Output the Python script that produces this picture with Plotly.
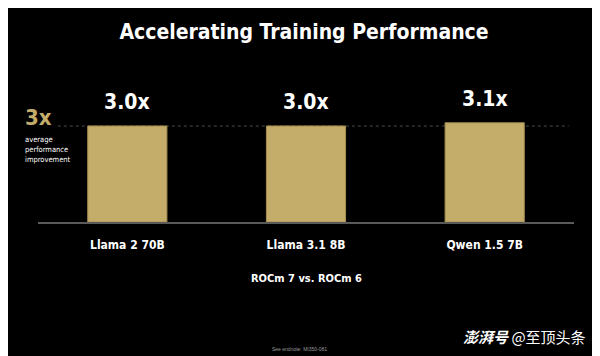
import plotly.graph_objects as go

categories = ["Llama 2 70B", "Llama 3.1 8B", "Qwen 1.5 7B"]
speedups = [3.0, 3.0, 3.1]
value_labels = ["3.0x", "3.0x", "3.1x"]
average_speedup = 3.0

FONT = "DejaVu Sans Condensed, Liberation Sans Narrow, Roboto, sans-serif"
GOLD = "#C4AD6B"

fig = go.Figure()
fig.add_trace(go.Bar(
    x=categories, y=speedups, width=0.443,
    marker=dict(color=GOLD, line=dict(color="#A8914F", width=1)),
    hoverinfo="skip", showlegend=False,
))

# value labels above bars
for c, v, t in zip(categories, speedups, value_labels):
    fig.add_annotation(x=c, y=v, text="<b>%s</b>" % t, showarrow=False,
                       yanchor="bottom", yshift=10,
                       font=dict(family=FONT, size=21, color="white"))

# average reference line
fig.add_shape(type="line", xref="paper", yref="y", x0=0.037, x1=0.99,
              y0=average_speedup, y1=average_speedup,
              line=dict(color="#4a4a4a", width=1, dash="dot"), layer="below")

fig.add_annotation(xref="paper", yref="y", x=-0.028, y=average_speedup,
                   text="<b>3x</b>", showarrow=False, xanchor="left", yanchor="bottom",
                   yshift=-6, font=dict(family=FONT, size=22, color=GOLD))
fig.add_annotation(xref="paper", yref="y", x=-0.028, y=average_speedup,
                   text="average<br>performance<br>improvement", showarrow=False,
                   xanchor="left", yanchor="top", yshift=-7, align="left",
                   font=dict(family=FONT, size=7.5, color="white"))

fig.add_annotation(xref="paper", yref="paper", x=0.5, y=0, yshift=-48,
                   text="<b>ROCm 7 vs. ROCm 6</b>", showarrow=False, yanchor="top",
                   font=dict(family=FONT, size=11, color="white"))

fig.add_annotation(xref="paper", yref="paper", x=0.487, y=0, yshift=-122,
                   text="See endnote: MI350-081", showarrow=False, yanchor="top",
                   font=dict(family="Liberation Sans, Arial, sans-serif", size=5, color="#9a9a9a"))

fig.add_annotation(xref="paper", yref="paper", x=1.026, y=0, yshift=-102,
                   text="<b><i>澎湃号</i></b> @至顶头条", showarrow=False, yanchor="top", xanchor="right",
                   font=dict(family="Noto Sans CJK SC, sans-serif", size=15, color="white"))

fig.update_layout(
    width=592, height=348,
    paper_bgcolor="black", plot_bgcolor="black",
    margin=dict(l=30, r=26, t=86, b=134),
    title=dict(text="<b>Accelerating Training Performance</b>", x=0.5, xanchor="center",
               y=1, yref="container", yanchor="top", pad=dict(t=16),
               font=dict(family=FONT, size=21, color="white")),
    xaxis=dict(showline=True, linecolor="#5a5a5a", linewidth=2, showgrid=False,
               ticks="", tickfont=dict(family=FONT, size=12, color="white"),
               ticklabelstandoff=11, range=[-0.5, 2.5],
               tickvals=categories, ticktext=["<b>%s</b>" % c for c in categories]),
    yaxis=dict(range=[0, 4], visible=False, showgrid=False, zeroline=False),
)

fig.write_html("out.html")
